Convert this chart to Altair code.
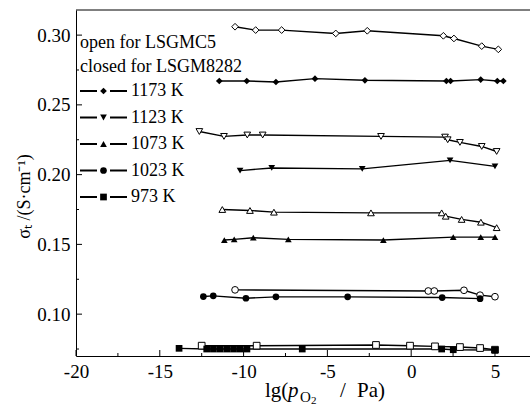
import altair as alt
import pandas as pd

# ---- data ----
s1173o_x = [-10.51, -9.28, -7.73, -4.50, -2.62, 1.92, 2.55, 4.21, 5.20]
s1173o_y = [0.3060, 0.3036, 0.3036, 0.3012, 0.3031, 0.2995, 0.2976, 0.2921, 0.2898]
s1173c_x = [-11.45, -9.81, -8.07, -5.74, -2.76, 2.10, 2.35, 4.15, 5.14, 5.50]
s1173c_y = [0.2671, 0.2671, 0.2664, 0.2688, 0.2676, 0.2671, 0.2671, 0.2681, 0.2671, 0.2671]
s1123o_x = [-12.64, -11.17, -9.78, -8.86, -1.80, 2.02, 2.18, 2.91, 4.21, 5.10]
s1123o_y = [0.2309, 0.2274, 0.2284, 0.2284, 0.2274, 0.2269, 0.2250, 0.2231, 0.2202, 0.2166]
s1123c_x = [-10.21, -8.32, -2.92, 2.32, 5.00]
s1123c_y = [0.2029, 0.2048, 0.2041, 0.2102, 0.2059]
s1073o_x = [-11.27, -9.62, -8.19, -2.40, 1.82, 2.06, 3.01, 4.16, 5.10]
s1073o_y = [0.1750, 0.1743, 0.1731, 0.1726, 0.1726, 0.1702, 0.1679, 0.1659, 0.1620]
s1073c_x = [-11.15, -10.56, -9.42, -7.33, -1.66, 2.51, 4.15, 5.00]
s1073c_y = [0.1531, 0.1536, 0.1548, 0.1536, 0.1531, 0.1552, 0.1552, 0.1552]
s1023o_x = [-10.51, 1.02, 1.38, 3.15, 4.11, 5.00]
s1023o_y = [0.1174, 0.1166, 0.1166, 0.1171, 0.1136, 0.1125]
s1023c_x = [-12.40, -11.81, -9.86, -8.07, -3.79, 1.85, 4.11]
s1023c_y = [0.1126, 0.1131, 0.1114, 0.1124, 0.1124, 0.1119, 0.1111]
s973o_x = [-12.50, -9.22, -2.10, -0.07, 1.42, 2.91, 4.11, 5.00]
s973o_y = [0.0774, 0.0774, 0.0779, 0.0774, 0.0769, 0.0764, 0.0757, 0.0745]
s973c_x = [-13.85, -12.20, -11.80, -11.40, -11.00, -10.60, -10.20, -9.80, -6.50, 1.82, 2.51, 5.00]
s973c_y = [0.0755, 0.0750, 0.0750, 0.0750, 0.0750, 0.0750, 0.0750, 0.0750, 0.0750, 0.0750, 0.0745, 0.0742]

temps = ["1173 K", "1123 K", "1073 K", "1023 K", "973 K"]
shapes = ["diamond", "triangle-down", "triangle-up", "circle", "square"]
legend_head = ["open for  LSGMC5", "closed for LSGM8282"]

x_major = [-20, -15, -10, -5, 0, 5]
x_minor = [-17.5, -12.5, -7.5, -2.5, 2.5]
y_major = [0.10, 0.15, 0.20, 0.25, 0.30]
y_minor = [0.075, 0.125, 0.175, 0.225, 0.275]

series = [
    ("1173o", s1173o_x, s1173o_y, shapes[0], False),
    ("1173c", s1173c_x, s1173c_y, shapes[0], True),
    ("1123o", s1123o_x, s1123o_y, shapes[1], False),
    ("1123c", s1123c_x, s1123c_y, shapes[1], True),
    ("1073o", s1073o_x, s1073o_y, shapes[2], False),
    ("1073c", s1073c_x, s1073c_y, shapes[2], True),
    ("1023o", s1023o_x, s1023o_y, shapes[3], False),
    ("1023c", s1023c_x, s1023c_y, shapes[3], True),
    ("973o", s973o_x, s973o_y, shapes[4], False),
    ("973c", s973c_x, s973c_y, shapes[4], True),
]
rows = []
for name, xs, ys, shp, filled in series:
    for xv, yv in zip(xs, ys):
        rows.append({"series": name, "x": xv, "y": yv, "shape": shp, "filled": filled})
df = pd.DataFrame(rows)

W, H = 454, 346
FONT = "Liberation Serif"
xscale = alt.Scale(domain=[-20, 7.09], nice=False, zero=False)
yscale = alt.Scale(domain=[0.07, 0.318], nice=False, zero=False)

xaxis = alt.Axis(values=x_major, ticks=False, grid=False, domainColor="black", domainWidth=1,
                 labelFont=FONT, labelFontSize=19, labelColor="black", labelPadding=6,
                 labelFlush=False, labelOverlap=False,
                 labelExpr="replace(datum.label, '\u2212', '-')", title=None)
yaxis = alt.Axis(values=y_major, format=".2f", ticks=False, grid=False, domainColor="black",
                 domainWidth=1, labelFont=FONT, labelFontSize=19, labelColor="black",
                 labelPadding=6, labelFlush=False, labelOverlap=False,
                 title="\u03c3\u209c /(S\u00b7cm\u207b\u00b9)", titleFont=FONT, titleFontSize=18,
                 titleFontWeight="normal", titleColor="black", titleAngle=270,
                 titleX=-52, titleY=186, titleBaseline="middle", titleAlign="center")


def X(field):
    return alt.X(field, scale=xscale, axis=xaxis)


def Y(field):
    return alt.Y(field, scale=yscale, axis=yaxis)


MS = 45
base = alt.Chart(df)
lines = base.mark_line(color="black", strokeWidth=1.4).encode(
    x=X("x:Q"), y=Y("y:Q"), detail="series:N")
pts_filled = base.transform_filter("datum.filled").mark_point(
    filled=True, color="black", size=MS, opacity=1
).encode(x=X("x:Q"), y=Y("y:Q"), shape=alt.Shape("shape:N", scale=None))
pts_open = base.transform_filter("!datum.filled").mark_point(
    filled=True, fill="white", stroke="black", strokeWidth=1, size=MS, opacity=1
).encode(x=X("x:Q"), y=Y("y:Q"), shape=alt.Shape("shape:N", scale=None))

# inward ticks
xt_major = alt.Chart(pd.DataFrame({"x": x_major})).mark_rule(color="black", strokeWidth=1).encode(
    x=X("x:Q"), y=alt.value(H), y2=alt.value(H - 6))
xt_minor = alt.Chart(pd.DataFrame({"x": x_minor})).mark_rule(color="black", strokeWidth=1).encode(
    x=X("x:Q"), y=alt.value(H), y2=alt.value(H - 3))
yt_major = alt.Chart(pd.DataFrame({"y": y_major})).mark_rule(color="black", strokeWidth=1).encode(
    y=Y("y:Q"), x=alt.value(0), x2=alt.value(6))
yt_minor = alt.Chart(pd.DataFrame({"y": y_minor})).mark_rule(color="black", strokeWidth=1).encode(
    y=Y("y:Q"), x=alt.value(0), x2=alt.value(3))

dummy = pd.DataFrame({"a": [0]})
top = alt.Chart(dummy).mark_rule(color="black", strokeWidth=1).encode(
    x=alt.value(0), x2=alt.value(W), y=alt.value(0))


def txt(s, x, y, size, style="normal", align="left"):
    return alt.Chart(dummy).mark_text(
        align=align, baseline="alphabetic", font=FONT, fontSize=size, fontStyle=style,
        color="black", text=s).encode(x=alt.value(x), y=alt.value(y))


# x-axis title  lg(p_O2 / Pa)
xtitle = [
    txt("lg(", 189, 387, 21),
    txt("p", 212, 387, 21, "italic"),
    txt("O", 224, 392, 15),
    txt("2", 235, 394, 11),
    txt("/", 264, 387, 21),
    txt("Pa)", 281, 387, 21),
]

# legend (pixel layout, one small layer per entry)
row0, step = 81, 26.5
legend_layers = []
heads_y = [33, 57]
for label, yy in zip(legend_head, heads_y):
    legend_layers.append(
        alt.Chart(dummy).mark_text(align="left", baseline="middle", font=FONT, fontSize=18,
                                   color="black", text=label)
        .encode(x=alt.value(4), y=alt.value(yy)))
for i, (label, shp) in enumerate(zip(temps, shapes)):
    yy = row0 + i * step
    legend_layers.append(
        alt.Chart(dummy).mark_rule(color="black", strokeWidth=2)
        .encode(x=alt.value(4), x2=alt.value(21), y=alt.value(yy)))
    legend_layers.append(
        alt.Chart(dummy).mark_rule(color="black", strokeWidth=2)
        .encode(x=alt.value(34), x2=alt.value(51), y=alt.value(yy)))
    legend_layers.append(
        alt.Chart(dummy).mark_point(filled=True, color="black", size=MS, opacity=1, shape=shp)
        .encode(x=alt.value(27.5), y=alt.value(yy)))
    legend_layers.append(
        alt.Chart(dummy).mark_text(align="left", baseline="middle", font=FONT, fontSize=18,
                                   color="black", text=label)
        .encode(x=alt.value(55), y=alt.value(yy)))

chart = alt.layer(
    lines, pts_open, pts_filled, xt_major, xt_minor, yt_major, yt_minor, top,
    *xtitle, *legend_layers
).properties(
    width=W, height=H,
    autosize=alt.AutoSizeParams(type="none"),
    padding={"left": 76, "top": 10, "right": 0, "bottom": 52},
    background="white",
).configure_view(strokeWidth=0)

chart.save("out.html", embed_options={"renderer": "svg", "actions": False})
